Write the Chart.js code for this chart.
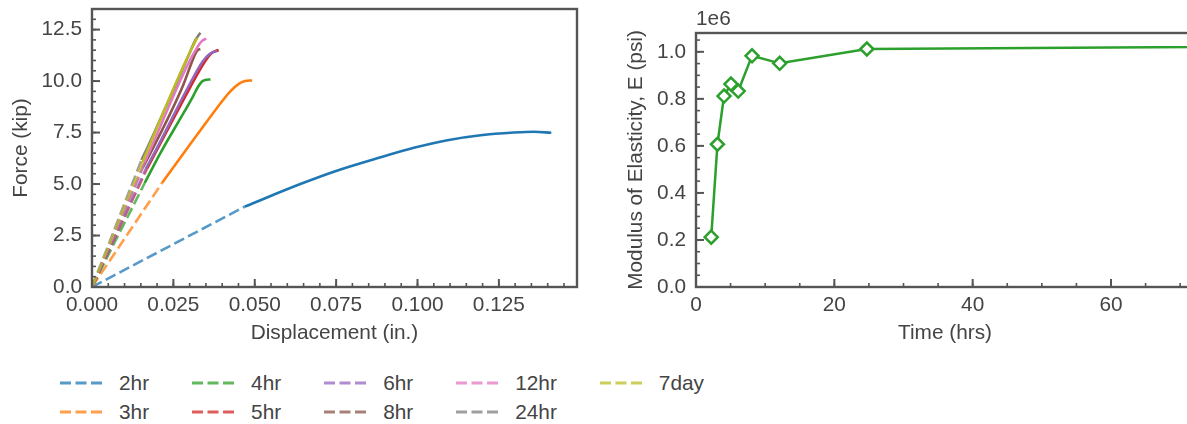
<!DOCTYPE html>
<html>
<head>
<meta charset="utf-8">
<script src="https://cdn.jsdelivr.net/npm/chart.js@4.4.0/dist/chart.umd.min.js"></script>
<style>
html, body { margin: 0; padding: 0; background: #fff; overflow: hidden; }
#wrap { position: relative; width: 1187px; height: 424px; overflow: hidden; }
#forceChart { position: absolute; left: 0; top: 0; }
#modulusChart { position: absolute; left: 590px; top: 0; }
#legend { position: absolute; left: 60px; top: 368px; display: flex; font: 20.8px "Liberation Sans", Arial, sans-serif; color: #444; }
#legend .col { margin-right: 43px; }
#legend .item { display: flex; align-items: center; height: 29.6px; white-space: nowrap; }
#legend svg { margin-right: 17px; }
</style>
</head>
<body>
<div id="wrap">
  <canvas id="forceChart" width="590" height="350" style="width:590px;height:350px"></canvas>
  <canvas id="modulusChart" width="620" height="350" style="width:620px;height:350px"></canvas>
  <div id="legend"></div>
</div>
<script>
// dados
const ages = ['2hr', '3hr', '4hr', '5hr', '6hr', '8hr', '12hr', '24hr', '7day']
const colors = ['#1f77b4', '#ff7f0e', '#2ca02c', '#d62728', '#9467bd', '#8c564b', '#e377c2', '#7f7f7f', '#bcbd22']

// end of the linear fit line (starts at the origin)
const fitDisp = [0.047, 0.0215, 0.0162, 0.0169, 0.0165, 0.0155, 0.0161, 0.0152, 0.0155]
const fitForce = [3.91, 5.05, 5.05, 5.75, 5.73, 5.77, 6.03, 6.17, 6.06]

// measured curves [displacement (in.), force (kip)]
const curve2hr = [[0.047, 3.91], [0.064, 5.0], [0.0743, 5.6], [0.0887, 6.3], [0.0989, 6.76], [0.1092, 7.13], [0.1194, 7.37], [0.1296, 7.50], [0.1358, 7.54], [0.1411, 7.49]]
const curve3hr = [[0.0215, 5.05], [0.0287, 6.62], [0.0335, 7.65], [0.0385, 8.72], [0.0425, 9.5], [0.045, 9.85], [0.047, 10.0], [0.0492, 10.03]]
const curve4hr = [[0.0162, 5.05], [0.021, 6.5], [0.0285, 8.55], [0.031, 9.25], [0.0325, 9.7], [0.0338, 9.98], [0.035, 10.06], [0.0364, 10.08]]
const curve5hr = [[0.0169, 5.75], [0.02, 6.67], [0.03, 9.65], [0.0345, 10.9], [0.0367, 11.35], [0.0389, 11.51]]
const curve6hr = [[0.0165, 5.73], [0.0197, 6.67], [0.0295, 9.7], [0.034, 10.95], [0.0362, 11.33], [0.0384, 11.46]]
const curve8hr = [[0.0155, 5.77], [0.0185, 6.67], [0.028, 9.8], [0.0305, 10.85], [0.0318, 11.35], [0.0326, 11.52], [0.0333, 11.55]]
const curve12hr = [[0.0161, 6.03], [0.0179, 6.67], [0.0292, 10.73], [0.0322, 11.6], [0.0338, 11.95], [0.0351, 12.06]]
const curve24hr = [[0.0152, 6.17], [0.0171, 6.8], [0.029, 11.0], [0.0318, 12.0], [0.0333, 12.35]]
const curve7day = [[0.0155, 6.06], [0.0171, 6.67], [0.029, 11.05], [0.0312, 11.75], [0.0323, 12.1]]
const curves = [curve2hr, curve3hr, curve4hr, curve5hr, curve6hr, curve8hr, curve12hr, curve24hr, curve7day]

// modulus vs age
const ageHrs = [2.2, 3.1, 4.05, 5.05, 6.1, 8.1, 12.1, 24.7, 168]
const modulusPsi = [212000, 607000, 812000, 863000, 833000, 983000, 951000, 1012000, 1037000]

const forceTicksX = 0.025, forceTicksY = 2.5
const timeTicksX = 20, modulusTicksY = 200000

Chart.defaults.font.family = '"Liberation Sans", Arial, sans-serif'
Chart.defaults.font.size = 20.8
Chart.defaults.color = '#444'

function fade(hex, a) {
    const n = parseInt(hex.slice(1), 16)
    return `rgba(${n >> 16}, ${(n >> 8) & 255}, ${n & 255}, ${a})`
}

// inward ticks (major + minor) and the frame
const innerTicks = {
    id: 'innerTicks',
    afterDatasetsDraw(chart, args, opts) {
        const { ctx, chartArea: a } = chart
        const sx = chart.scales.x, sy = chart.scales.y
        ctx.save()
        ctx.strokeStyle = '#555'
        const tick = (scale, v, len) => {
            const p = scale.getPixelForValue(v)
            ctx.beginPath()
            if (scale.isHorizontal()) {
                ctx.moveTo(p, a.bottom); ctx.lineTo(p, a.bottom - len)
            } else {
                ctx.moveTo(a.left, p); ctx.lineTo(a.left + len, p)
            }
            ctx.stroke()
        }
        const minors = (scale, step) => {
            ctx.lineWidth = 1.6
            for (let i = 0; scale.min + i * step <= scale.max + step * 1e-6; i++) tick(scale, scale.min + i * step, 4)
        }
        minors(sx, opts.minorX)
        minors(sy, opts.minorY)
        ctx.lineWidth = 2
        sx.ticks.forEach(t => tick(sx, t.value, 8))
        sy.ticks.forEach(t => tick(sy, t.value, 8))
        ctx.lineWidth = 2.4
        ctx.strokeRect(a.left, a.top, a.right - a.left, a.bottom - a.top)
        if (opts.offsetText) {
            ctx.fillStyle = '#444'
            ctx.font = '20.8px "Liberation Sans", Arial, sans-serif'
            ctx.textBaseline = 'bottom'
            ctx.fillText(opts.offsetText, a.left, a.top - 3)
        }
        ctx.restore()
    }
}

const fixBox = (w, h) => ({
    x: s => { s.height = h; s.paddingLeft = 0; s.paddingRight = 0 },
    y: s => { s.width = w; s.paddingTop = 0; s.paddingBottom = 0 }
})

// ticks every "step" from the axis minimum
const stepTicks = step => s => {
    const t = []
    for (let i = 0; s.min + i * step <= s.max + step * 1e-6; i++) t.push({ value: s.min + i * step })
    s.ticks = t
}

// left chart: force x displacement
const forceSets = []
ages.forEach((age, i) => {
    forceSets.push({
        label: age,
        data: [{ x: 0, y: 0 }, { x: fitDisp[i], y: fitForce[i] }],
        borderColor: fade(colors[i], 0.75),
        borderDash: [11, 4.5],
        borderWidth: 2.6
    })
    forceSets.push({
        label: age + ' test',
        data: curves[i].map(p => ({ x: p[0], y: p[1] })),
        borderColor: colors[i],
        borderWidth: 2.6,
        cubicInterpolationMode: 'monotone'
    })
})
forceSets.forEach((d, k) => { d.order = forceSets.length - k; d.pointRadius = 0; d.fill = false })

const noGrid = { display: false, drawTicks: false }
const fbox = fixBox(92, 63)
new Chart(document.getElementById('forceChart'), {
    type: 'line',
    data: { datasets: forceSets },
    plugins: [innerTicks],
    options: {
        responsive: false,
        animation: false,
        events: [],
        layout: { padding: { top: 9, right: 13, left: 0, bottom: 0 } },
        plugins: {
            legend: { display: false },
            tooltip: { enabled: false },
            innerTicks: { minorX: 0.005, minorY: 0.5 }
        },
        scales: {
            x: {
                type: 'linear', min: 0, max: 0.149,
                grid: noGrid, border: { display: false },
                ticks: { padding: 6, maxRotation: 0, autoSkip: false, callback: v => v.toFixed(3) },
                afterBuildTicks: stepTicks(forceTicksX),
                title: { display: true, text: 'Displacement (in.)', padding: { top: 0, bottom: 4 } },
                afterFit: fbox.x
            },
            y: {
                type: 'linear', min: 0, max: 13.5,
                grid: noGrid, border: { display: false },
                ticks: { padding: 10, autoSkip: false, callback: v => v.toFixed(1) },
                afterBuildTicks: stepTicks(forceTicksY),
                title: { display: true, text: 'Force (kip)', padding: { top: 9, bottom: 0 } },
                afterFit: fbox.y
            }
        }
    }
})

// right chart: modulus x time
const mbox = fixBox(106, 63)
new Chart(document.getElementById('modulusChart'), {
    type: 'line',
    data: {
        datasets: [{
            label: 'E',
            data: ageHrs.map((t, i) => ({ x: t, y: modulusPsi[i] })),
            borderColor: '#2ca02c',
            borderWidth: 2.5,
            pointStyle: 'rectRot',
            pointRadius: 6.5,
            pointBorderWidth: 2.5,
            pointBorderColor: '#2ca02c',
            pointBackgroundColor: '#fff',
            tension: 0
        }]
    },
    plugins: [innerTicks],
    options: {
        responsive: false,
        animation: false,
        events: [],
        layout: { padding: { top: 33, right: 16, left: 0, bottom: 0 } },
        plugins: {
            legend: { display: false },
            tooltip: { enabled: false },
            innerTicks: { minorX: 5, minorY: 50000, offsetText: '1e6' }
        },
        scales: {
            x: {
                type: 'linear', min: 0, max: 72,
                grid: noGrid, border: { display: false },
                ticks: { padding: 6, maxRotation: 0, autoSkip: false },
                afterBuildTicks: stepTicks(timeTicksX),
                title: { display: true, text: 'Time (hrs)', padding: { top: 0, bottom: 4 } },
                afterFit: mbox.x
            },
            y: {
                type: 'linear', min: 0, max: 1080000,
                grid: noGrid, border: { display: false },
                ticks: { padding: 10, autoSkip: false, callback: v => (v / 1e6).toFixed(1) },
                afterBuildTicks: stepTicks(modulusTicksY),
                title: { display: true, text: 'Modulus of Elasticity, E (psi)', padding: { top: 34, bottom: 0 } },
                afterFit: mbox.y
            }
        }
    }
})

// legenda (column by column, like the original)
const legend = document.getElementById('legend')
for (let c = 0; c < ages.length; c += 2) {
    const col = document.createElement('div')
    col.className = 'col'
    for (let i = c; i < Math.min(c + 2, ages.length); i++) {
        const item = document.createElement('div')
        item.className = 'item'
        item.innerHTML = `<svg width="42" height="6"><line x1="0" y1="3" x2="42" y2="3" stroke="${fade(colors[i], 0.75)}" stroke-width="3" stroke-dasharray="11 4.5"/></svg><span>${ages[i]}</span>`
        col.appendChild(item)
    }
    legend.appendChild(col)
}
</script>
</body>
</html>
